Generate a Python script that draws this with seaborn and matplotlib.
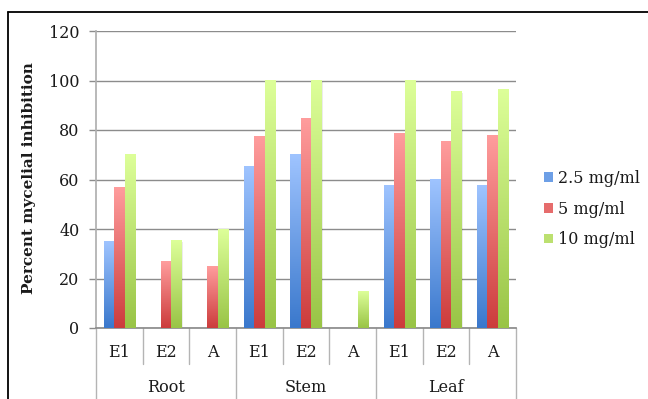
import numpy as np
import pandas as pd
import seaborn as sns
import matplotlib
matplotlib.use("Agg")
import matplotlib.pyplot as plt
from matplotlib.colors import LinearSegmentedColormap
from matplotlib.patches import Patch, Rectangle
from matplotlib.lines import Line2D

# Plant parts and extracts
parts = ["Root", "Stem", "Leaf"]
extracts = ["E1", "E2", "A"]
concentrations = ["2.5 mg/ml", "5 mg/ml", "10 mg/ml"]

# Percent mycelial inhibition per extract (Root E1..A, Stem E1..A, Leaf E1..A)
inhib_2_5 = [35, 0, 0, 65.3, 70.3, 0, 57.7, 59.9, 57.7]
inhib_5 = [56.7, 26.8, 24.7, 77.4, 84.8, 0, 78.4, 75.3, 77.7]
inhib_10 = [70.3, 35.2, 39.7, 100, 100, 14.6, 100, 95.5, 96.4]

rows = []
k = 0
for p in parts:
    for e in extracts:
        for c, vals in zip(concentrations, [inhib_2_5, inhib_5, inhib_10]):
            rows.append({"slot": f"{p} {e}", "part": p, "extract": e,
                         "conc": c, "value": vals[k]})
        k += 1
df = pd.DataFrame(rows)
slots = list(dict.fromkeys(df["slot"]))

# top (light) and bottom (dark) colours of each gradient fill
tops = ["#9fc4ff", "#ff9d9d", "#ddff99"]
bottoms = ["#3a78cc", "#cc3c3c", "#99c446"]
mids = ["#6d9fe6", "#e66c6c", "#bce070"]

sns.set_theme(style="white")
plt.rcParams["font.family"] = ["DejaVu Serif"]

fig = plt.figure(figsize=(6.48, 3.99), dpi=100)
ax = fig.add_axes([96 / 648, 1 - 328 / 399, 420 / 648, 297 / 399])

sns.barplot(data=df, x="slot", y="value", hue="conc", order=slots,
            hue_order=concentrations, palette=mids, width=0.665,
            dodge=True, errorbar=None, legend=False, ax=ax)

# replace flat fills with vertical gradients
grad = np.linspace(0, 1, 256).reshape(-1, 1)
for cont, top, bot in zip(ax.containers, tops, bottoms):
    cmap = LinearSegmentedColormap.from_list("g", [bot, top])
    for bar in cont:
        x0 = bar.get_x()
        w = bar.get_width()
        h = bar.get_height()
        bar.set_visible(False)
        if h <= 0:
            continue
        ax.add_patch(Rectangle((x0 + w + 0.0, 0), 0.025, h - 0.6,
                               color="#000000", alpha=0.08, zorder=2,
                               lw=0))
        ax.imshow(grad, extent=[x0, x0 + w, 0, h], origin="lower",
                  cmap=cmap, aspect="auto", zorder=3,
                  interpolation="bilinear")

ax.set_xlim(-0.5, len(slots) - 0.5)
ax.set_ylim(0, 120)
ax.set_yticks(np.arange(0, 121, 20))
ax.tick_params(axis="y", labelsize=11.5, length=5, width=1,
               color="#8c8c8c", pad=7, left=True, labelcolor="#1a1a1a")
ax.set_xticks([])
ax.set_xlabel("")
ax.yaxis.grid(True, color="#8c8c8c", lw=1)
ax.set_axisbelow(True)
for s in ["top", "right"]:
    ax.spines[s].set_visible(False)
ax.spines["left"].set_color("#b0b0b0")
ax.spines["bottom"].set_color("#8c8c8c")

ax.set_ylabel("Percent mycelial inhibition", fontsize=11, fontweight="bold",
              color="#1a1a1a")
ax.yaxis.set_label_coords(-0.142, 0.505)

# two-level category axis
trans = ax.get_xaxis_transform()
for i, s in enumerate(slots):
    ax.text(i, -0.081, s.split()[1], transform=trans, ha="center",
            va="center", fontsize=11.5, color="#1a1a1a", clip_on=False)
for g, p in enumerate(parts):
    ax.text(g * 3 + 1, -0.199, p, transform=trans, ha="center",
            va="center", fontsize=11.5, color="#1a1a1a", clip_on=False)
for b in np.arange(-0.5, len(slots), 1.0):
    outer = (b + 0.5) % 3 == 0
    ax.add_line(Line2D([b, b], [0, -0.3 if outer else -0.122],
                       transform=trans, color="#b4b4b4", lw=1,
                       clip_on=False))

handles = [Patch(facecolor=m, edgecolor="none") for m in mids]
fig.legend(handles, concentrations, loc="center left",
           bbox_to_anchor=(533 / 648, 1 - 209 / 399), frameon=False,
           fontsize=11.5, handlelength=0.55, handleheight=0.55,
           handletextpad=0.3, labelspacing=0.85, labelcolor="#1a1a1a",
           borderpad=0.2)

# outer chart frame
fig.add_artist(Line2D([8 / 648, 8 / 648], [0, 1 - 12 / 399],
                      transform=fig.transFigure, color="black", lw=1.3))
fig.add_artist(Line2D([8 / 648, 1], [1 - 12 / 399, 1 - 12 / 399],
                      transform=fig.transFigure, color="black", lw=1.3))

fig.savefig("out.png", dpi=100)
